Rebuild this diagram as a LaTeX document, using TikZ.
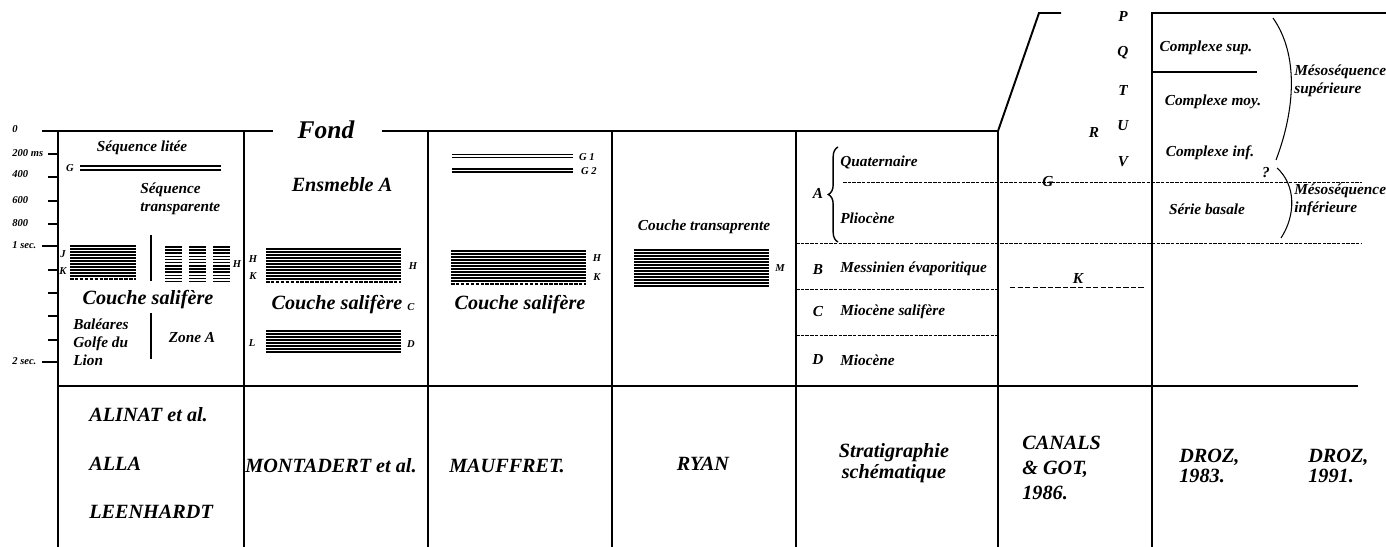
\documentclass[tikz,border=0pt]{standalone}
\usepackage{fontspec}
\setmainfont{Liberation Serif}
\usetikzlibrary{shapes,arrows,positioning,calc,decorations.pathreplacing}

\begin{document}
\begin{tikzpicture}[
  x=0.02cm, y=-0.02cm,
  txt/.style={font=\bfseries\itshape\fontsize{8.7}{10.2}\selectfont, inner sep=0pt, align=left},
  big/.style={font=\bfseries\itshape\fontsize{11.5}{13}\selectfont, inner sep=0pt, align=left},
  tiny/.style={font=\bfseries\itshape\fontsize{6}{7}\selectfont, inner sep=0pt},
  frame/.style={line width=0.8pt},
  layer/.style={line width=0.6pt},
  limit/.style={line width=0.5pt, dash pattern=on 2pt off 0.7pt},
  base/.style={line width=0.6pt, dash pattern=on 2pt off 0.8pt}
]
\useasboundingbox (0,0) rectangle (1386,547);

% frame of the table
\draw[frame] (42,131) -- (273,131);
\draw[frame] (382,131) -- (998,131);
\draw[line width=1.1pt] (998,547) -- (998,131) -- (1039,13) -- (1061,13);
\draw[frame] (1152,547) -- (1152,13) -- (1386,13);
\foreach \x in {58,244,428,612,796}
  \draw[frame] (\x,131) -- (\x,547);
\draw[frame] (58,386) -- (1358,386);

% time scale
\foreach \y in {246,362}
  \draw[frame] (42,\y) -- (58,\y);
\foreach \y in {154,177,201,224,270,293,316,340}
  \draw[frame] (48,\y) -- (58,\y);
\node[tiny, anchor=west] (s0)   at (12,129) {0};
\node[tiny, anchor=west] (s200) at (12,153) {200 ms};
\node[tiny, anchor=west] (s400) at (12,174) {400};
\node[tiny, anchor=west] (s600) at (12,200) {600};
\node[tiny, anchor=west] (s800) at (12,223) {800};
\node[tiny, anchor=west] (s1)   at (12,245) {1 sec.};
\node[tiny, anchor=west] (s2)   at (12,361) {2 sec.};

% ALINAT et al.
\node[txt] (seqlit) at (142,148) {Séquence litée};
\draw[layer] (80,166) -- (221,166);
\draw[layer] (80,170) -- (221,170);
\node[tiny] (ga) at (70,168) {G};
\node[txt, anchor=west] (seqtr) at (140,199) {Séquence\\transparente};
\foreach \y in {246,249,...,276}
  \draw[layer] (70,\y) -- (136,\y);
\draw[base] (70,279) -- (136,279);
\node[tiny] (ja) at (63,254) {J};
\node[tiny] (ka) at (63,271) {K};
\draw[frame] (151,235) -- (151,281);
\foreach \x in {165,189,213}
  \foreach \g in {247,256.5,266,275.5}
    \foreach \d in {0,3,6}
      \draw[layer] (\x,\g+\d) -- (\x+17,\g+\d);
\node[tiny] (ha) at (237,264) {H};
\node[big] (sela) at (148,300) {Couche salifère};
\draw[frame] (151,313) -- (151,359);
\node[txt, anchor=west] (bal) at (73,342) {Baléares\\Golfe du\\Lion};
\node[txt] (zonea) at (192,338) {Zone A};

% MONTADERT et al.
\node[font=\bfseries\itshape\fontsize{14.5}{16}\selectfont, inner sep=0pt] (fond) at (326,130) {Fond};
\node[big] (ensa) at (342,185) {Ensmeble A};
\foreach \y in {249,252,...,279}
  \draw[layer] (266,\y) -- (401,\y);
\draw[base] (266,282) -- (401,282);
\node[tiny] (hb) at (253,259) {H};
\node[tiny] (kb) at (253,276) {K};
\node[tiny] (hb2) at (413,266) {H};
\node[big] (selb) at (337,305) {Couche salifère};
\node[tiny] (cb) at (411,307) {C};
\foreach \y in {331,334,...,352}
  \draw[layer] (266,\y) -- (401,\y);
\node[tiny] (lb) at (252,343) {L};
\node[tiny] (db) at (411,344) {D};

% MAUFFRET.
\foreach \y in {154.5,157.5,169,172}
  \draw[line width=0.9pt] (452,\y) -- (573,\y);
\node[tiny] (g1) at (587,157) {G 1};
\node[tiny] (g2) at (589,171) {G 2};
\foreach \y in {251,254,...,281}
  \draw[layer] (451,\y) -- (586,\y);
\draw[base] (451,284) -- (586,284);
\node[tiny] (hc) at (597,258) {H};
\node[tiny] (kc) at (597,277) {K};
\node[big] (selc) at (520,305) {Couche salifère};

% RYAN
\node[txt] (ctr) at (704,227) {Couche transaprente};
\foreach \y in {250,253,...,286}
  \draw[layer] (634,\y) -- (769,\y);
\node[tiny] (md) at (780,268) {M};

% Stratigraphie schematique
\node[txt] (la) at (818,193) {A};
\draw[decorate, decoration={brace, amplitude=5.5pt}, line width=0.8pt] (838,242) -- (838,147);
\node[txt, anchor=west] (quat) at (840,162) {Quaternaire};
\node[txt, anchor=west] (plio) at (840,218) {Pliocène};
\node[txt] (lbb) at (818,270) {B};
\node[txt, anchor=west] (mess) at (840,269) {Messinien évaporitique};
\node[txt] (lc) at (818,312) {C};
\node[txt, anchor=west] (mios) at (840,312) {Miocène salifère};
\node[txt] (ld) at (818,360) {D};
\node[txt, anchor=west] (mio) at (840,360) {Miocène};
\draw[limit] (843,182) -- (1362,182);
\draw[limit] (796,243) -- (1362,243);
\draw[limit] (796,289) -- (998,289);
\draw[limit] (796,335) -- (998,335);

% CANALS & GOT
\foreach \n/\y in {P/16,Q/53,T/90,U/126,V/162}
  \node[txt] (c\n) at (1123,\y) {\n};
\node[txt] (cr) at (1094,132) {R};
\node[txt] (cg) at (1048,182) {G};
\node[txt] (ck) at (1078,278) {K};
\draw[line width=0.5pt, dash pattern=on 3pt off 1.3pt] (1010,287) -- (1145,287);

% DROZ 1983 / 1991
\node[txt] (csup) at (1206,48) {Complexe sup.};
\draw[layer] (1152,72) -- (1257,72);
\node[txt] (cmoy) at (1213,102) {Complexe moy.};
\node[txt] (cinf) at (1210,153) {Complexe inf.};
\node[txt] (qm) at (1266,173) {?};
\node[txt] (sbas) at (1207,209) {Série basale};
\draw[layer] (1273,18) .. controls (1299,55) and (1295,110) .. (1276,160);
\draw[layer] (1277,168) .. controls (1296,185) and (1296,215) .. (1281,238);
\node[txt, anchor=west] (msup) at (1294,81) {Mésoséquence\\supérieure};
\node[txt, anchor=west] (minf) at (1294,200) {Mésoséquence\\inférieure};

% authors
\node[big, anchor=west] (alinat) at (89,415) {ALINAT et al.};
\node[big, anchor=west] (alla) at (89,464) {ALLA};
\node[big, anchor=west] (leen) at (89,512) {LEENHARDT};
\node[big] (mont) at (331,466) {MONTADERT et al.};
\node[big] (mauf) at (507,466) {MAUFFRET.};
\node[big] (ryan) at (703,464) {RYAN};
\node[big, align=center, font=\bfseries\itshape\fontsize{11.5}{12}\selectfont] (strat) at (894,463) {Stratigraphie\\schématique};
\node[big, anchor=west, font=\bfseries\itshape\fontsize{11.5}{14}\selectfont] (canals) at (1022,468) {CANALS\\\& GOT,\\1986.};
\node[big, anchor=west, font=\bfseries\itshape\fontsize{11.5}{11.5}\selectfont] (droza) at (1179,466) {DROZ,\\1983.};
\node[big, anchor=west, font=\bfseries\itshape\fontsize{11.5}{11.5}\selectfont] (drozb) at (1308,466) {DROZ,\\1991.};

\end{tikzpicture}
\end{document}
